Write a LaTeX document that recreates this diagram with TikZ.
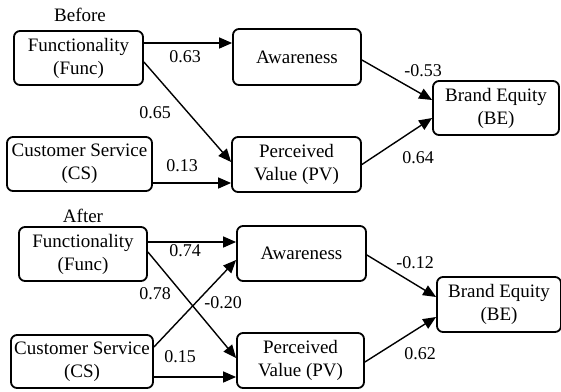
\documentclass[tikz,border=0pt]{standalone}
\usepackage{fontspec}
\setmainfont{Liberation Serif}
\usetikzlibrary{arrows.meta}
\begin{document}
\begin{tikzpicture}[x=1pt,y=-1pt,
  boxnode/.style={draw,line width=1.8pt,rounded corners=6pt,align=center,inner sep=0pt,
    font=\fontsize{19}{23}\selectfont},
  lbl/.style={inner sep=0pt,font=\fontsize{18}{20}\selectfont},
  ttl/.style={inner sep=0pt,font=\fontsize{19}{22}\selectfont},
  conn/.style={line width=1.4pt,-{Triangle[length=13pt,width=11pt]}}]
\useasboundingbox (0,0) rectangle (561,391);
% Before
\node[ttl] (tb) at (80,15) {Before};
\node[boxnode,minimum width=129pt,minimum height=54pt] (f1) at (78.5,58) {Functionality\\(Func)};
\node[boxnode,minimum width=128pt,minimum height=56pt] (a1) at (297,57) {Awareness};
\node[boxnode,minimum width=145pt,minimum height=54pt] (c1) at (79.5,164) {Customer Service\\(CS)};
\node[boxnode,minimum width=129pt,minimum height=55pt] (p1) at (296.5,164.5) {Perceived\\Value (PV)};
\node[boxnode,minimum width=126pt,minimum height=54pt] (b1) at (496,108) {Brand Equity\\(BE)};
\draw[conn] ([yshift=15pt]f1.east) -- ([yshift=14pt]a1.west);
\draw[conn] ([yshift=-4pt]f1.east) -- ([yshift=2.5pt]p1.west);
\draw[conn] ([yshift=-19pt]c1.east) -- ([yshift=-18.5pt]p1.west);
\draw[conn] ([yshift=-3pt]a1.east) -- ([yshift=8pt]b1.west);
\draw[conn] (p1.east) -- ([yshift=-10pt]b1.west);
\node[lbl] (l1) at (185,57) {0.63};
\node[lbl] (l2) at (155,113) {0.65};
\node[lbl] (l3) at (182,166) {0.13};
\node[lbl] (l4) at (423,71) {-0.53};
\node[lbl] (l5) at (418,158) {0.64};
% After
\node[ttl] (ta) at (83,216) {After};
\node[boxnode,minimum width=128pt,minimum height=54pt] (f2) at (83,254) {Functionality\\(Func)};
\node[boxnode,minimum width=129pt,minimum height=55pt] (a2) at (301.5,253.5) {Awareness};
\node[boxnode,minimum width=142pt,minimum height=53pt] (c2) at (82,361.5) {Customer Service\\(CS)};
\node[boxnode,minimum width=127pt,minimum height=55pt] (p2) at (300.5,360.5) {Perceived\\Value (PV)};
\node[boxnode,minimum width=124pt,minimum height=55pt] (b2) at (499,304.5) {Brand Equity\\(BE)};
\draw[conn] ([yshift=12pt]f2.east) -- ([yshift=11.5pt]a2.west);
\draw[conn] ([yshift=2pt]f2.east) -- ([yshift=2.5pt]p2.west);
\draw[conn] ([yshift=14.5pt]c2.east) -- ([yshift=-6.5pt]a2.west);
\draw[conn] ([yshift=-15.5pt]c2.east) -- ([yshift=-16.5pt]p2.west);
\draw[conn] ([yshift=-1.5pt]a2.east) -- ([yshift=7.5pt]b2.west);
\draw[conn] ([yshift=-1.5pt]p2.east) -- ([yshift=-12.5pt]b2.west);
\node[lbl] (m1) at (185,251) {0.74};
\node[lbl] (m2) at (155,294) {0.78};
\node[lbl] (m3) at (223,303) {-0.20};
\node[lbl] (m4) at (180,357) {0.15};
\node[lbl] (m5) at (415,263) {-0.12};
\node[lbl] (m6) at (420,354) {0.62};
\end{tikzpicture}
\end{document}
